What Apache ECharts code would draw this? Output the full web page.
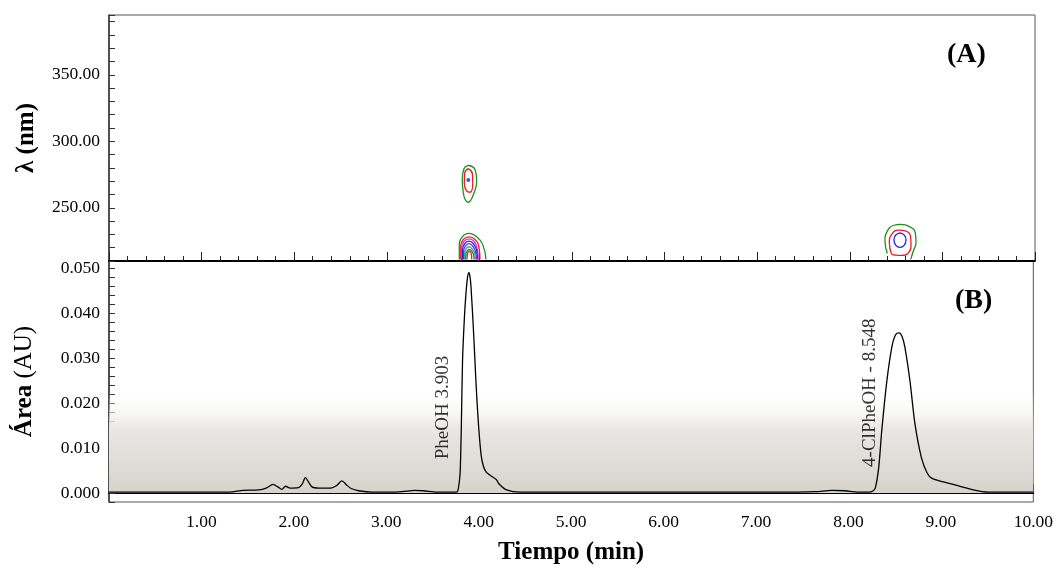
<!DOCTYPE html>
<html><head><meta charset="utf-8">
<script src="https://cdn.jsdelivr.net/npm/echarts@6/dist/echarts.min.js"></script>
<style>html,body{margin:0;padding:0;background:#fff}#c{width:1056px;height:570px}</style>
</head><body><div id="c"></div>
<script>
// ---- Chromatogram (panel B) ----
const chromTime = [0,0.5,1.0,1.3,1.45,1.62,1.70,1.775,1.83,1.87,1.91,1.96,2.05,2.09,2.125,2.16,2.20,2.27,2.40,2.46,2.52,2.57,2.62,2.70,2.85,3.10,3.22,3.30,3.40,3.55,3.76,3.775,3.79,3.80,3.812,3.825,3.845,3.862,3.878,3.893,3.905,3.916,3.941,3.96,3.977,4.00,4.025,4.05,4.079,4.12,4.19,4.22,4.30,4.45,5.0,6.0,7.0,7.45,7.65,7.82,7.96,8.10,8.22,8.26,8.29,8.327,8.36,8.416,8.47,8.51,8.548,8.58,8.61,8.665,8.72,8.79,8.85,8.90,9.04,9.15,9.33,9.51,9.75,10.0];
const chromArea = [0.0002,0.0002,0.0002,0.0002,0.0006,0.0007,0.0011,0.0019,0.0013,0.0008,0.0015,0.0011,0.0012,0.0020,0.0034,0.0024,0.0013,0.0011,0.0011,0.0016,0.0027,0.0018,0.0010,0.0005,0.0002,0.0002,0.0004,0.0006,0.0005,0.0002,0.0002,0.0006,0.0025,0.0050,0.0150,0.0295,0.0390,0.0444,0.0478,0.0490,0.0482,0.0460,0.0370,0.0290,0.0220,0.0145,0.0086,0.0060,0.0047,0.0040,0.0030,0.0020,0.0007,0.0002,0.0002,0.0002,0.0002,0.0002,0.0003,0.0006,0.0005,0.0002,0.0002,0.0004,0.0011,0.0056,0.0138,0.0250,0.0325,0.0352,0.0356,0.0348,0.0325,0.0250,0.0153,0.0078,0.0045,0.0033,0.0024,0.0018,0.0008,0.0002,0.0002,0.0002];

// peak annotations [time, area, text]
const peakLabels = [[3.618, 0.019, 'PheOH 3.903'], [8.23, 0.0223, '4-ClPheOH - 8.548']];

// ---- Contour lines (panel A): [time, wavelength] ----
const upperGreen = [[3.880,282.0],[3.953,278.7],[3.971,270.0],[3.942,261.2],[3.880,254.2],[3.826,261.2],[3.815,271.2],[3.834,279.5],[3.880,282.0]];
const upperRed = [[3.880,279.5],[3.924,275.7],[3.928,268.7],[3.899,261.7],[3.863,262.5],[3.837,268.7],[3.841,276.2],[3.880,279.5]];
const upperBlueDot = [[3.880,271.0]];
const lowGreen1 = [[3.783,211.2],[3.783,221.2],[3.815,228.2],[3.891,230.7],[3.971,228.2],[4.035,222.5],[4.071,211.2]];
const lowRed2 = [[3.798,211.2],[3.798,221.2],[3.826,226.2],[3.888,228.2],[3.953,226.2],[3.996,220.0],[4.006,211.2]];
const lowMagenta3 = [[3.809,211.2],[3.809,220.0],[3.834,224.7],[3.888,226.7],[3.942,224.7],[3.977,218.7],[3.988,211.2]];
const lowBlue4 = [[3.819,211.2],[3.819,218.7],[3.841,223.0],[3.888,225.0],[3.935,223.0],[3.971,217.5],[3.977,211.2]];
const lowPurple5 = [[3.830,211.2],[3.830,217.5],[3.848,221.2],[3.888,223.0],[3.928,221.2],[3.960,216.7],[3.967,211.2]];
const lowTeal6 = [[3.841,211.2],[3.841,216.2],[3.855,219.2],[3.888,220.7],[3.920,219.2],[3.949,215.7],[3.956,211.2]];
const lowGreen7 = [[3.852,211.2],[3.855,215.7],[3.870,217.7],[3.891,218.7],[3.917,217.5],[3.935,215.0],[3.942,211.2]];
const lowRed8 = [[3.866,211.2],[3.870,215.0],[3.891,217.5],[3.913,215.0],[3.917,211.2]];
const rightGreen = [[8.405,215.7],[8.380,225.0],[8.405,232.5],[8.470,236.7],[8.549,237.5],[8.650,235.7],[8.707,231.2],[8.715,223.7],[8.686,217.5],[8.658,211.2]];
const rightRed = [[8.452,215.0],[8.427,223.7],[8.452,230.0],[8.524,233.2],[8.607,232.5],[8.658,227.5],[8.661,221.2],[8.614,215.0],[8.560,214.2],[8.488,214.5],[8.452,215.0]];
const rightBlue = [[8.542,231.2],[8.589,229.5],[8.607,225.7],[8.589,222.0],[8.542,220.2],[8.495,222.0],[8.477,225.7],[8.495,229.5],[8.542,231.2]];

// ---- Axis ticks ----
const timeMin = 0, timeMax = 10, timeStep = 1;
const lambdaMin = 210, lambdaMax = 395, lambdaStep = 10, lambdaLabelStep = 50;
const areaMin = -0.002, areaMax = 0.0516, areaStep = 0.002, areaLabelStep = 0.01;

const FONT = "'Liberation Serif', 'Times New Roman', serif";
const GREEN = '#1f8f1f', RED = '#ee1c24', BLUE = '#2020e8', MAGENTA = '#e020e0', PURPLE = '#7a22c8', TEAL = '#19b5a5';

const chart = echarts.init(document.getElementById('c'), null, {renderer: 'canvas'});

function contour(data, color) {
  return {type: 'line', xAxisIndex: 0, yAxisIndex: 0, data: data, smooth: 0.5, symbol: 'none',
    lineStyle: {color: color, width: 1.3}, z: 4, silent: true, animation: false};
}

const xCommon = {
  type: 'value', min: timeMin, max: timeMax, interval: timeStep,
  axisLine: {show: true, lineStyle: {color: '#000', width: 2}},
  axisTick: {show: true, inside: true, length: 9, lineStyle: {color: '#222', width: 1}},
  minorTick: {show: true, splitNumber: 5, length: 5, lineStyle: {color: '#222', width: 1}},
  splitLine: {show: false}
};

const option = {
  backgroundColor: '#fff',
  animation: false,
  grid: [
    {left: 109, right: 21, top: 15, height: 246, show: true, borderColor: '#555', borderWidth: 1, backgroundColor: 'transparent'},
    {left: 109, right: 21, top: 261, height: 241, show: true, borderColor: '#555', borderWidth: 1, backgroundColor: 'transparent'}
  ],
  xAxis: [
    Object.assign({}, xCommon, {gridIndex: 0, axisLabel: {show: false}}),
    Object.assign({}, xCommon, {gridIndex: 1,
      name: 'Tiempo (min)', nameLocation: 'middle', nameGap: 38,
      nameTextStyle: {fontFamily: FONT, fontSize: 25, fontWeight: 'bold', color: '#000'},
      axisLabel: {show: true, margin: 11, fontFamily: FONT, fontSize: 17.5, color: '#000',
        formatter: v => (v === 0 ? '' : v.toFixed(2))}})
  ],
  yAxis: [
    {type: 'value', gridIndex: 0, min: lambdaMin, max: lambdaMax, interval: lambdaStep,
      name: 'λ (nm)', nameLocation: 'middle', nameGap: 70, nameRotate: 90,
      nameTextStyle: {fontFamily: FONT, fontSize: 25, fontWeight: 'bold', color: '#000'},
      axisLine: {show: true, lineStyle: {color: '#333', width: 1.5}},
      axisTick: {show: true, inside: true, length: 6, lineStyle: {color: '#333'}},
      splitLine: {show: false},
      axisLabel: {margin: 9, fontFamily: FONT, fontSize: 17.5, color: '#000',
        formatter: v => (v % lambdaLabelStep === 0 ? v.toFixed(2) : '')}},
    {type: 'value', gridIndex: 1, min: areaMin, max: areaMax, interval: areaStep,
      name: '{b|Área} (AU)', nameLocation: 'middle', nameGap: 72, nameRotate: 90,
      nameTextStyle: {fontFamily: FONT, fontSize: 25, color: '#000',
        rich: {b: {fontFamily: FONT, fontSize: 25, fontWeight: 'bold', color: '#000'}}},
      axisLine: {show: true, lineStyle: {color: '#333', width: 1.5}},
      axisTick: {show: true, inside: true, length: 6, lineStyle: {color: '#333'}},
      splitLine: {show: false},
      axisLabel: {margin: 9, fontFamily: FONT, fontSize: 17.5, color: '#000',
        formatter: v => {
          const k = v / areaLabelStep;
          return (v >= -1e-9 && Math.abs(k - Math.round(k)) < 1e-6 && v <= 0.05 + 1e-9) ? Math.abs(v).toFixed(3) : '';
        }}}
  ],
  graphic: [
    {type: 'text', left: 947, top: 41, z: 100, style: {text: '(A)', font: "bold 28px 'Liberation Serif', serif", fill: '#000'}},
    {type: 'text', left: 955, top: 287, z: 100, style: {text: '(B)', font: "bold 28px 'Liberation Serif', serif", fill: '#000'}}
  ],
  series: [
    // gradient background band of panel B
    {type: 'line', xAxisIndex: 1, yAxisIndex: 1, data: [[timeMin, 0]], symbol: 'none',
      lineStyle: {opacity: 0}, z: 1, silent: true,
      markArea: {silent: true,
        itemStyle: {color: new echarts.graphic.LinearGradient(0, 0, 0, 1, [
          {offset: 0, color: 'rgba(255,255,255,0)'}, {offset: 0.56, color: 'rgba(255,255,255,0)'},
          {offset: 0.72, color: '#eae8e4'}, {offset: 1, color: '#d6d3cd'}])},
        data: [[{yAxis: 0}, {yAxis: areaMax}]]}},
    {type: 'line', xAxisIndex: 1, yAxisIndex: 1, z: 5, symbol: 'none', smooth: 0.3,
      data: chromTime.map((t, i) => [t, chromArea[i]]),
      lineStyle: {color: '#000', width: 1.3}},
    {type: 'scatter', xAxisIndex: 1, yAxisIndex: 1, z: 6, symbolSize: 1,
      itemStyle: {color: 'rgba(0,0,0,0)'},
      data: peakLabels.map(p => ({value: [p[0], p[1]], name: p[2]})),
      label: {show: true, position: 'inside', rotate: 90, formatter: p => p.name,
        fontFamily: FONT, fontSize: 19, color: '#000'}},
    contour(upperGreen, GREEN),
    contour(upperRed, RED),
    {type: 'scatter', xAxisIndex: 0, yAxisIndex: 0, data: upperBlueDot, symbolSize: 4,
      itemStyle: {color: BLUE}, z: 5},
    contour(lowGreen1, GREEN),
    contour(lowRed2, RED),
    contour(lowMagenta3, MAGENTA),
    contour(lowBlue4, BLUE),
    contour(lowPurple5, PURPLE),
    contour(lowTeal6, TEAL),
    contour(lowGreen7, GREEN),
    contour(lowRed8, RED),
    contour(rightGreen, GREEN),
    contour(rightRed, RED),
    contour(rightBlue, BLUE)
  ]
};
chart.setOption(option);
</script>
</body></html>
